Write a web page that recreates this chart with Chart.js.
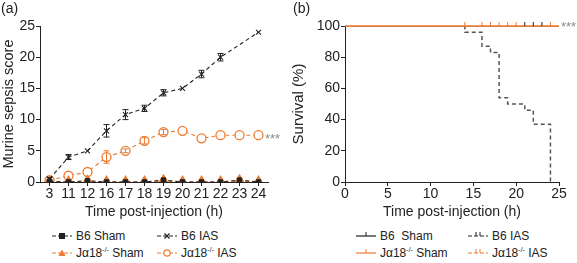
<!DOCTYPE html>
<html>
<head>
<meta charset="utf-8">
<script src="https://cdn.jsdelivr.net/npm/chart.js@4.4.1/dist/chart.umd.min.js"></script>
<style>
  body { margin: 0; background: #fff; font-family: "Liberation Sans", Arial, sans-serif; }
  #wrap { position: relative; width: 577px; height: 263px; overflow: hidden; }
  .panel { position: absolute; top: 0; height: 225px; }
  .tag { position: absolute; top: 0px; font-size: 14px; color: #222; }
  .stars { position: absolute; font-size: 13px; color: #8a8a8a; }
  .legend { position: absolute; font-size: 12px; color: #222; }
  .legend .item { position: absolute; white-space: nowrap; display: flex; align-items: center; }
  .legend svg { margin-right: 4px; }
  sup { font-size: 7px; vertical-align: 5px; }
</style>
</head>
<body>
<div id="wrap">
  <div class="panel" style="left:0;width:290px"><canvas id="score-chart"></canvas></div>
  <div class="panel" style="left:290px;width:287px"><canvas id="survival-chart"></canvas></div>
  <div class="tag" style="left:1px">(a)</div>
  <div class="tag" style="left:293px">(b)</div>
  <div class="stars" style="left:265px;top:131px">***</div>
  <div class="stars" style="left:561px;top:19px">***</div>
  <div class="legend" id="legend-a"></div>
  <div class="legend" id="legend-b"></div>
</div>
<script>
const ORANGE = '#ee7b30';
const BLACK = '#222';

// panel (a): murine sepsis score
const hours = ['3', '11', '12', '16', '17', '18', '19', '20', '21', '22', '23', '24'];
const b6Sham = [0.1, 0, 0.2, 0, 0, 0, 0.3, 0, 0, 0, 0.3, 0];
const b6Ias = [0.5, 4, 5, 8.2, 10.8, 11.8, 14.3, 15, 17.3, 20, null, 24];
const b6IasErr = [0.2, 0.4, 0, 1, 0.8, 0.5, 0.5, 0, 0.6, 0.6, 0, 0];
const jaSham = [0, 0, 0.1, 0, 0, 0, 0.2, 0, 0, 0, 0.2, 0];
const jaIas = [0.3, 1, 1.6, 4, 5, 6.6, 8, 8.2, 7, 7.5, 7.5, 7.5];
const jaIasErr = [0, 0, 0, 1, 0.3, 0.5, 0.4, 0, 0, 0, 0, 0];

// panel (b): survival (%)
const b6IasSurvival = [
    { x: 0, y: 100 }, { x: 14, y: 96 }, { x: 16, y: 87 }, { x: 17, y: 83 },
    { x: 18, y: 54 }, { x: 19, y: 50 }, { x: 21, y: 46 }, { x: 22, y: 37 }, { x: 24, y: 0 }
];
const shamSurvival = [{ x: 0, y: 100 }, { x: 25, y: 100 }];
const jaCensored = [14, 16, 17, 18, 19, 20, 24];
const b6Censored = [21, 22, 23];

const errorBars = {
    id: 'errorBars',
    afterDatasetsDraw(chart) {
        const ctx = chart.ctx;
        const yScale = chart.scales.y;
        chart.data.datasets.forEach((ds, i) => {
            if (!ds.errors) return;
            const meta = chart.getDatasetMeta(i);
            ctx.save();
            ctx.strokeStyle = ds.borderColor;
            ctx.lineWidth = 1;
            meta.data.forEach((pt, j) => {
                const err = ds.errors[j];
                if (!err || ds.data[j] == null) return;
                const top = yScale.getPixelForValue(ds.data[j] + err);
                const bottom = yScale.getPixelForValue(ds.data[j] - err);
                ctx.beginPath();
                ctx.moveTo(pt.x, top); ctx.lineTo(pt.x, bottom);
                ctx.moveTo(pt.x - 3, top); ctx.lineTo(pt.x + 3, top);
                ctx.moveTo(pt.x - 3, bottom); ctx.lineTo(pt.x + 3, bottom);
                ctx.stroke();
            });
            ctx.restore();
        });
    }
};

function axisStyle(extra) {
    return Object.assign({
        border: { display: true, color: BLACK, width: 1 },
        grid: { display: true, drawOnChartArea: false, tickLength: 4, color: BLACK }
    }, extra);
}

function font(size) {
    return { family: 'Liberation Sans', size: size };
}

function drawScoreChart() {
    const ctx = document.getElementById('score-chart').getContext('2d');
    new Chart(ctx, {
        type: 'line',
        data: {
            labels: hours,
            datasets: [
                { label: 'B6 Sham', data: b6Sham, borderColor: BLACK, backgroundColor: BLACK,
                  borderDash: [4, 3], borderWidth: 1, pointStyle: 'rect', pointRadius: 3.2 },
                { label: 'B6 IAS', data: b6Ias, errors: b6IasErr, borderColor: BLACK, backgroundColor: BLACK,
                  borderDash: [4, 3], borderWidth: 1.1, pointStyle: 'crossRot', pointRadius: 3.5, spanGaps: true },
                { label: 'Jα18-/- Sham', data: jaSham, borderColor: ORANGE, backgroundColor: ORANGE,
                  borderDash: [4, 3], borderWidth: 1.6, pointStyle: 'triangle', pointRadius: 5.5 },
                { label: 'Jα18-/- IAS', data: jaIas, errors: jaIasErr, borderColor: ORANGE, backgroundColor: '#fff',
                  borderDash: [4, 3], borderWidth: 1.1, pointStyle: 'circle', pointRadius: 4.5, pointBorderWidth: 1.3 }
            ]
        },
        options: {
            responsive: true,
            maintainAspectRatio: false,
            animation: false,
            layout: { padding: { top: 26, right: 22, left: 0, bottom: 0 } },
            plugins: { legend: { display: false }, tooltip: { enabled: false } },
            scales: {
                x: axisStyle({
                    offset: true,
                    afterFit: s => { s.height = 43; },
                    ticks: { color: BLACK, font: font(14), padding: 0, maxRotation: 0, autoSkip: false },
                    title: { display: true, text: 'Time post-injection (h)', color: BLACK, font: font(14), padding: { top: 1 } }
                }),
                y: axisStyle({
                    min: 0, max: 25,
                    afterFit: s => { s.width = 40; },
                    ticks: { stepSize: 5, color: BLACK, font: font(14), padding: 1 },
                    title: { display: true, text: 'Murine sepsis score', color: BLACK, font: font(14.5), padding: 0 }
                })
            }
        },
        plugins: [errorBars]
    });
}

function drawSurvivalChart() {
    const ctx = document.getElementById('survival-chart').getContext('2d');
    const censorMark = { showLine: false, clip: false, pointStyle: 'dash', pointRotation: -90, pointRadius: 4, pointBorderWidth: 1 };
    new Chart(ctx, {
        type: 'line',
        data: {
            datasets: [
                Object.assign({ data: b6Censored.map(x => ({ x, y: 100 })), borderColor: BLACK }, censorMark),
                Object.assign({ data: jaCensored.map(x => ({ x, y: 100 })), borderColor: ORANGE }, censorMark),
                { label: 'Jα18-/- Sham', data: shamSurvival, borderColor: ORANGE, borderWidth: 1.5, pointRadius: 0, clip: false },
                { label: 'Jα18-/- IAS', data: shamSurvival, borderColor: ORANGE, borderDash: [4, 3], borderWidth: 1, pointRadius: 0 },
                { label: 'B6 IAS', data: b6IasSurvival, borderColor: '#555', borderDash: [4, 3],
                  borderWidth: 1.5, stepped: 'before', pointRadius: 0 },
                { label: 'B6 Sham', data: shamSurvival, borderColor: BLACK, borderWidth: 1, pointRadius: 0 }
            ]
        },
        options: {
            responsive: true,
            maintainAspectRatio: false,
            animation: false,
            layout: { padding: { top: 26, right: 18, left: 0, bottom: 0 } },
            plugins: { legend: { display: false }, tooltip: { enabled: false } },
            scales: {
                x: axisStyle({
                    type: 'linear', min: 0, max: 25,
                    afterFit: s => { s.height = 43; },
                    ticks: { stepSize: 5, color: BLACK, font: font(14), padding: 0 },
                    title: { display: true, text: 'Time post-injection (h)', color: BLACK, font: font(14), padding: { top: 1 } }
                }),
                y: axisStyle({
                    min: 0, max: 100,
                    afterFit: s => { s.width = 55; },
                    ticks: { stepSize: 20, color: BLACK, font: font(14), padding: 1 },
                    title: { display: true, text: 'Survival (%)', color: BLACK, font: font(15), padding: 0 }
                })
            }
        }
    });
}

function markerSvg(color, marker, dashed) {
    const dash = dashed ? 'stroke-dasharray="4 2"' : '';
    let m = '';
    if (marker === 'rect') m = `<rect x="7" y="3" width="6" height="6" fill="${color}"/>`;
    if (marker === 'cross') m = `<path d="M7.5 3.5 L12.5 8.5 M12.5 3.5 L7.5 8.5" stroke="${color}" stroke-width="1.2"/>`;
    if (marker === 'triangle') m = `<path d="M10 2.5 L13.5 9 L6.5 9 Z" fill="${color}"/>`;
    if (marker === 'circle') m = `<circle cx="10" cy="6" r="3.2" fill="#fff" stroke="${color}" stroke-width="1.2"/>`;
    if (marker === 'tick') m = `<path d="M10 6 L10 2" stroke="${color}" stroke-width="1"/>`;
    if (marker === 'step') m = `<path d="M8 6 L8 2" stroke="${color}" stroke-width="1"/><path d="M12 6 L12 2" stroke="${color}" stroke-width="1"/>`;
    return `<svg width="20" height="12"><line x1="0" y1="6" x2="20" y2="6" stroke="${color}" stroke-width="1.2" ${dash}/>${m}</svg>`;
}

function createLegend(elementId, left, top, colX, items) {
    const legendElement = document.getElementById(elementId);
    legendElement.style.left = left + 'px';
    legendElement.style.top = top + 'px';
    items.forEach((item, index) => {
        const div = document.createElement('div');
        div.className = 'item';
        div.style.left = colX[index % 2] + 'px';
        div.style.top = Math.floor(index / 2) * 17 + 'px';
        div.innerHTML = markerSvg(item.color, item.marker, item.dashed) + '<span>' + item.text + '</span>';
        legendElement.appendChild(div);
    });
}

const JA = 'J&alpha;18<sup>-/-</sup>';

document.addEventListener('DOMContentLoaded', () => {
    drawScoreChart();
    drawSurvivalChart();
    createLegend('legend-a', 52, 229, [0, 105], [
        { color: BLACK, marker: 'rect', dashed: true, text: 'B6 Sham' },
        { color: BLACK, marker: 'cross', dashed: true, text: 'B6 IAS' },
        { color: ORANGE, marker: 'triangle', dashed: true, text: JA + ' Sham' },
        { color: ORANGE, marker: 'circle', dashed: true, text: JA + ' IAS' }
    ]);
    createLegend('legend-b', 356, 229, [0, 112], [
        { color: BLACK, marker: 'tick', dashed: false, text: 'B6&nbsp; Sham' },
        { color: BLACK, marker: 'step', dashed: true, text: 'B6 IAS' },
        { color: ORANGE, marker: 'tick', dashed: false, text: JA + ' Sham' },
        { color: ORANGE, marker: 'step', dashed: true, text: JA + ' IAS' }
    ]);
});
</script>
</body>
</html>
